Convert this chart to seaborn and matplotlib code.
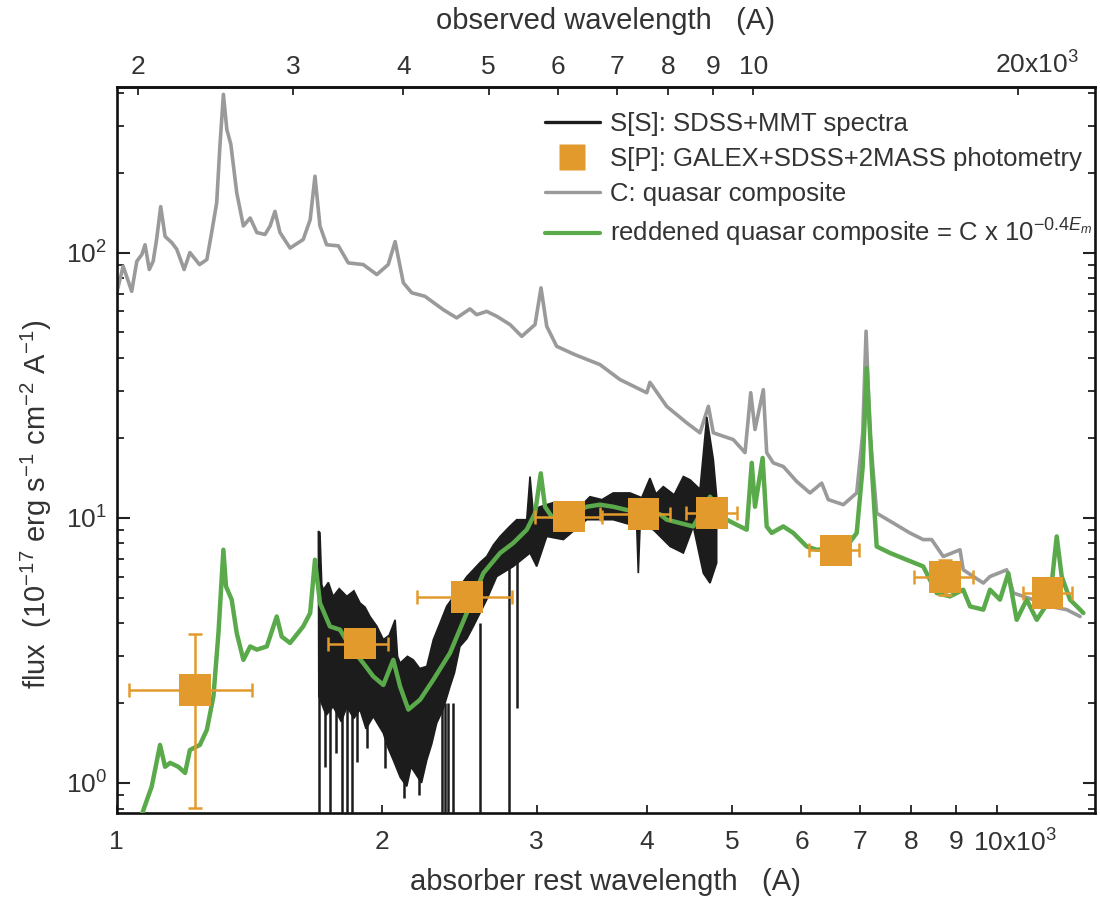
import matplotlib
matplotlib.use("Agg")
import matplotlib.pyplot as plt
import matplotlib.transforms as mtransforms
from matplotlib.lines import Line2D
from matplotlib.ticker import FixedLocator, FixedFormatter, LogLocator, NullFormatter, NullLocator
import numpy as np
import pandas as pd
import seaborn as sns

sns.set_theme(style="ticks")
plt.rcParams["font.family"] = ["Liberation Sans", "DejaVu Sans"]
plt.rcParams["mathtext.fontset"] = "custom"
plt.rcParams["mathtext.rm"] = "Liberation Sans"
plt.rcParams["mathtext.it"] = "Liberation Sans:italic"
plt.rcParams["mathtext.bf"] = "Liberation Sans:bold"

# absorber redshift factor used for the observed-frame axis
ONE_PLUS_Z = 1.89

# quasar composite C (rest wavelength in A, flux)
composite = [
    (1000, 70.5), (1017, 88.8), (1040, 71.4), (1054, 92.7), (1068, 98.3), (1077, 107),
    (1089, 86.3), (1100, 92.7), (1110, 112), (1122, 149), (1135, 115), (1155, 109),
    (1170, 103), (1193, 86.3), (1211, 100), (1242, 90.1), (1266, 94.1), (1282, 119),
    (1299, 154), (1310, 252), (1322, 395), (1334, 291), (1348, 256), (1369, 168),
    (1393, 126), (1418, 135), (1443, 119), (1474, 117), (1494, 126), (1513, 143),
    (1533, 119), (1574, 104), (1629, 112), (1659, 133), (1680, 194), (1702, 126),
    (1732, 107), (1786, 106), (1833, 91.4), (1906, 90.1), (1975, 82.6), (2035, 90.1),
    (2072, 110), (2117, 76.9), (2164, 70.5), (2240, 68.4), (2350, 60.9), (2434, 56.7),
    (2520, 61.3), (2565, 58.3), (2633, 60.0), (2703, 57.5), (2799, 53.5), (2886, 48.3),
    (2988, 53.5), (3035, 73.6), (3081, 52.7), (3162, 44.3), (3317, 41.2), (3541, 37.8),
    (3731, 33.2), (4003, 29.6), (4036, 32.4), (4217, 26.3), (4443, 22.8), (4601, 20.9),
    (4703, 26.3), (4764, 20.9), (5020, 19.7), (5176, 17.6), (5254, 29.6), (5313, 21.5),
    (5430, 30.4), (5478, 17.6), (5573, 16.1), (5721, 15.6), (5925, 13.7), (6135, 12.4),
    (6326, 13.5), (6436, 11.7), (6695, 11.2), (6933, 12.4), (7043, 20.9), (7105, 50.5),
    (7178, 20.9), (7305, 10.4), (7628, 9.55), (7968, 8.76), (8251, 8.27), (8435, 8.27),
    (8695, 7.14), (9084, 7.57), (9162, 6.36), (9656, 5.67), (9826, 6.0), (10266, 6.36),
    (10445, 5.2), (11004, 4.91), (11496, 4.63), (12011, 4.5), (12439, 4.24),
]

# reddened composite C x 10^(-0.4 E_m)
reddened = [
    (1057, 0.69), (1096, 0.97), (1120, 1.39), (1135, 1.15), (1150, 1.19), (1175, 1.15),
    (1196, 1.09), (1211, 1.33), (1243, 1.39), (1266, 1.585), (1288, 2.12), (1305, 3.67),
    (1322, 7.57), (1331, 5.51), (1351, 4.91), (1369, 3.67), (1393, 2.91), (1418, 3.27),
    (1443, 3.18), (1481, 3.27), (1520, 4.24), (1540, 3.56), (1574, 3.37), (1629, 3.89),
    (1659, 4.37), (1680, 6.94), (1702, 4.77), (1747, 3.89), (1794, 3.78), (1841, 3.27),
    (1906, 2.83), (1957, 2.52), (2009, 2.34), (2062, 2.91), (2099, 2.31), (2145, 1.89),
    (2212, 2.06), (2290, 2.45), (2392, 3.09), (2499, 4.37), (2610, 6.18), (2727, 7.36),
    (2823, 8.03), (2924, 9.01), (2988, 10.4), (3033, 14.7), (3067, 11.0), (3121, 10.1),
    (3274, 10.3), (3421, 11.0), (3541, 11.2), (3666, 11.0), (3797, 10.7), (3984, 10.5),
    (4144, 10.3), (4217, 9.83), (4366, 9.55), (4521, 9.27), (4723, 12.0), (4934, 9.83),
    (5109, 9.27), (5199, 9.01), (5268, 16.1), (5313, 11.0), (5420, 16.8), (5478, 9.27),
    (5550, 8.76), (5721, 9.27), (5873, 8.76), (6083, 7.79), (6245, 7.57), (6754, 7.79),
    (6933, 8.76), (7043, 15.6), (7117, 36.7), (7211, 15.6), (7305, 7.79), (7566, 7.36),
    (7902, 6.94), (8251, 6.55), (8546, 5.20), (8850, 5.05), (9162, 5.35), (9327, 4.63),
    (9656, 4.50), (9826, 5.35), (10086, 4.91), (10309, 6.18), (10537, 4.12), (10816, 4.91),
    (11104, 4.12), (11496, 4.91), (11700, 8.5), (11855, 6.0), (12115, 4.91), (12439, 4.50),
    (12546, 4.37),
]

# SDSS+MMT spectrum: upper and lower edges of the noisy trace
spec_upper = [
    (1695, 8.9), (1702, 8.78), (1710, 5.6), (1717, 5.35), (1740, 5.7), (1762, 5.05),
    (1790, 5.4), (1826, 5.05), (1860, 5.3), (1890, 4.77), (1915, 4.6), (1940, 4.24),
    (1975, 3.9), (2009, 3.47), (2040, 3.6), (2072, 4.12), (2085, 3.0), (2099, 2.83),
    (2140, 3.0), (2173, 2.91), (2210, 2.7), (2251, 2.75), (2290, 3.47), (2330, 4.0),
    (2371, 4.63), (2410, 5.0), (2455, 5.51), (2500, 6.0), (2542, 6.36), (2590, 6.8),
    (2633, 7.14), (2680, 7.9), (2727, 8.5), (2790, 9.2), (2848, 9.83), (2924, 9.83),
    (2949, 14.3), (2972, 10.7), (3027, 11.0), (3134, 11.4), (3250, 11.3), (3362, 11.0),
    (3450, 12.0), (3560, 11.7), (3666, 12.4), (3831, 12.4), (3950, 11.9), (4036, 14.1),
    (4100, 12.3), (4180, 13.1), (4300, 12.2), (4405, 14.3), (4483, 13.9), (4601, 12.8),
    (4683, 24.0), (4764, 16.6), (4806, 12.0),
]
spec_lower = [
    (1697, 2.12), (1730, 1.8), (1762, 1.94), (1800, 1.7), (1826, 1.94), (1860, 1.75),
    (1890, 1.89), (1920, 1.6), (1957, 1.78), (2009, 1.54), (2035, 1.35), (2062, 1.22),
    (2100, 1.05), (2136, 0.97), (2160, 1.15), (2183, 1.09), (2220, 1.0), (2251, 1.22),
    (2280, 1.4), (2310, 1.68), (2350, 1.9), (2392, 2.31), (2420, 2.6), (2455, 3.27),
    (2500, 3.5), (2542, 3.89), (2590, 4.4), (2633, 4.91), (2703, 6.0), (2823, 6.55),
    (2949, 7.36), (3001, 6.55), (3081, 8.5), (3218, 8.27), (3421, 9.83), (3666, 9.83),
    (3899, 9.27), (3915, 6.18), (3933, 9.27), (4072, 9.01), (4255, 7.79), (4405, 7.36),
    (4521, 9.27), (4641, 6.18), (4723, 5.67), (4806, 6.75),
]

# narrow absorption troughs in the spectrum: wavelength, top, floor
absorption_wave = [1698, 1725, 1747, 1775, 1802, 1826, 1849, 1875, 1925, 2018, 2120, 2205,
                   2341, 2361, 2381, 2409, 2587, 2794, 2848]
absorption_top = [2.2, 2.0, 2.0, 2.0, 2.0, 2.0, 2.0, 2.0, 1.8, 1.6, 1.1, 1.1,
                  2.0, 2.0, 2.0, 2.0, 4.0, 6.5, 9.5]
absorption_floor = [0.5, 1.15, 0.5, 1.3, 0.5, 0.5, 0.5, 1.2, 1.35, 1.14, 0.88, 0.9,
                    0.5, 0.5, 0.5, 0.5, 0.5, 0.5, 1.92]

# GALEX+SDSS+2MASS photometry
phot_wave = [1227, 1890, 2499, 3268, 3967, 4745, 6568, 8736, 11426]
phot_flux = [2.24, 3.35, 5.02, 10.1, 10.3, 10.4, 7.53, 5.97, 5.20]
phot_wave_lo = [1033, 1740, 2193, 2988, 3539, 4440, 6124, 8061, 10720]
phot_wave_hi = [1423, 2035, 2811, 3560, 4248, 5065, 6982, 9406, 12167]
phot_flux_lo = [0.805, 3.25, 4.9, 9.8, 10.0, 10.1, 7.3, 5.13, 5.0]
phot_flux_hi = [3.65, 3.45, 5.15, 10.4, 10.6, 10.7, 7.8, 6.9, 5.4]

bottom_ticks = [1000, 2000, 3000, 4000, 5000, 6000, 7000, 8000, 9000, 10000]
bottom_labels = ["1", "2", "3", "4", "5", "6", "7", "8", "9", "10x10$^{3}$"]
top_ticks = [2000, 3000, 4000, 5000, 6000, 7000, 8000, 9000, 10000, 20000]
top_labels = ["2", "3", "4", "5", "6", "7", "8", "9", "10", "20x10$^{3}$"]

BLACK = "#1c1c1c"
GRAY = "#9a9a9a"
GREEN = "#5aaa4c"
ORANGE = "#e39a2d"
TEXT = "#333333"

comp_df = pd.DataFrame(composite, columns=["wave", "flux"])
red_df = pd.DataFrame(reddened, columns=["wave", "flux"])
up_df = pd.DataFrame(spec_upper, columns=["wave", "flux"])
lo_df = pd.DataFrame(spec_lower, columns=["wave", "flux"])
phot_df = pd.DataFrame({"wave": phot_wave, "flux": phot_flux})

fig = plt.figure(figsize=(11.0, 8.99), dpi=100)
ax = fig.add_axes([0.1061, 0.0957, 0.8894, 0.8075])
ax.set_xscale("log")
ax.set_yscale("log")

# composite
sns.lineplot(data=comp_df, x="wave", y="flux", ax=ax, color=GRAY, linewidth=2.6,
             sort=False, estimator=None, zorder=2)

# observed spectrum as a filled band between its edges, plus absorption troughs
band_x = np.concatenate([up_df["wave"].values, lo_df["wave"].values[::-1]])
band_y = np.concatenate([up_df["flux"].values, lo_df["flux"].values[::-1]])
ax.fill(band_x, band_y, color=BLACK, linewidth=1.2, edgecolor=BLACK, zorder=3)
ax.vlines(absorption_wave, absorption_floor, absorption_top, color=BLACK, linewidth=1.8, zorder=3)

# reddened composite
sns.lineplot(data=red_df, x="wave", y="flux", ax=ax, color=GREEN, linewidth=3.2,
             sort=False, estimator=None, zorder=4)

# photometry with error bars
pw = np.array(phot_wave, dtype=float)
pf = np.array(phot_flux, dtype=float)
xerr = [pw - np.array(phot_wave_lo), np.array(phot_wave_hi) - pw]
yerr = [pf - np.array(phot_flux_lo), np.array(phot_flux_hi) - pf]
ax.errorbar(pw, pf, xerr=xerr, yerr=yerr, fmt="none", ecolor=ORANGE, elinewidth=1.8,
            capsize=5, capthick=1.8, zorder=5)
sns.scatterplot(data=phot_df, x="wave", y="flux", ax=ax, marker="s", s=520, color=ORANGE,
                edgecolor="none", linewidth=0, zorder=6, legend=False)

ax.set_xlim(1000, 12935)
ax.set_ylim(0.77, 421)

# axes styling
for sp in ax.spines.values():
    sp.set_linewidth(1.9)
    sp.set_color("#111111")

ax.xaxis.set_major_locator(FixedLocator(bottom_ticks))
ax.xaxis.set_major_formatter(FixedFormatter(bottom_labels))
ax.xaxis.set_minor_locator(NullLocator())
ax.yaxis.set_major_locator(FixedLocator([1, 10, 100]))
ax.yaxis.set_major_formatter(FixedFormatter(["10$^{0}$", "10$^{1}$", "10$^{2}$"]))
ax.yaxis.set_minor_locator(LogLocator(base=10, subs=np.arange(2, 10) * 1.0, numticks=20))
ax.yaxis.set_minor_formatter(NullFormatter())
ax.tick_params(axis="x", which="major", direction="in", length=6, width=1.3,
               labelsize=19, pad=12, top=False, bottom=True, colors="#222222",
               labelcolor=TEXT)
ax.tick_params(axis="y", which="major", direction="in", length=9, width=1.5,
               labelsize=19, pad=7, left=True, right=True, colors="#222222",
               labelcolor=TEXT)
ax.tick_params(axis="y", which="minor", direction="in", length=5, width=1.3,
               left=True, right=True, colors="#222222")

# shift the last bottom label so that its "10" sits on the tick
for lbl in ax.get_xticklabels():
    if "x10" in lbl.get_text():
        lbl.set_horizontalalignment("left")
        lbl.set_transform(lbl.get_transform() +
                          mtransforms.ScaledTranslation(-17 / 72, 0, fig.dpi_scale_trans))

ax.set_xlabel("absorber rest wavelength   (A)", fontsize=21, color=TEXT, labelpad=8)
ax.set_ylabel("flux  (10$^{-17}$ erg s$^{-1}$ cm$^{-2}$ A$^{-1}$)", fontsize=21, color=TEXT)
ax.yaxis.set_label_coords(-0.064, 0.425)

# observed-frame axis
sec = ax.secondary_xaxis("top", functions=(lambda w: w * ONE_PLUS_Z, lambda w: w / ONE_PLUS_Z))
sec.xaxis.set_major_locator(FixedLocator(top_ticks))
sec.xaxis.set_major_formatter(FixedFormatter(top_labels))
sec.xaxis.set_minor_locator(NullLocator())
sec.tick_params(axis="x", which="major", direction="in", length=6, width=1.3,
                labelsize=19, pad=6, colors="#222222", labelcolor=TEXT)
sec.spines["top"].set_linewidth(1.9)
for lbl in sec.get_xticklabels():
    if "x10" in lbl.get_text():
        lbl.set_horizontalalignment("left")
        lbl.set_transform(lbl.get_transform() +
                          mtransforms.ScaledTranslation(-17 / 72, 0, fig.dpi_scale_trans))
sec.set_xlabel("observed wavelength   (A)", fontsize=21, color=TEXT, labelpad=16)

handles = [
    Line2D([], [], color=BLACK, lw=2.4),
    Line2D([], [], ls="none", marker="s", ms=19, color=ORANGE, mec="none"),
    Line2D([], [], color=GRAY, lw=2.4),
    Line2D([], [], color=GREEN, lw=3.0),
]
labels = [
    "S[S]: SDSS+MMT spectra",
    "S[P]: GALEX+SDSS+2MASS photometry",
    "C: quasar composite",
    "reddened quasar composite = C x 10$^{-0.4E_{m}}$",
]
leg = ax.legend(handles, labels, loc="upper left", bbox_to_anchor=(0.4375, 0.965),
                frameon=False, fontsize=18.5, handlelength=2.15, handletextpad=0.39,
                labelspacing=0.42, borderaxespad=0, borderpad=0)
for t in leg.get_texts():
    t.set_color(TEXT)

fig.savefig("out.png", dpi=100)
